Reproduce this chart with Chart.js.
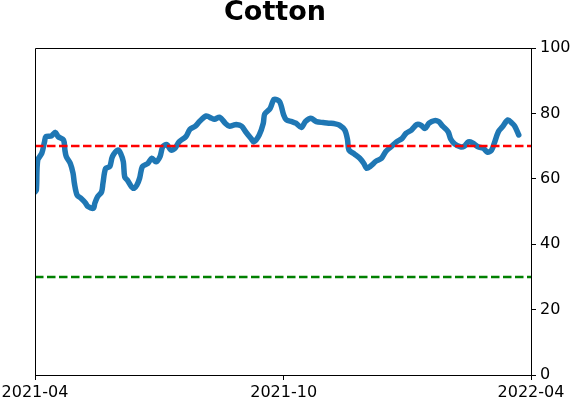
<!DOCTYPE html>
<html>
<head>
<meta charset="utf-8">
<script src="https://cdn.jsdelivr.net/npm/chart.js@4/dist/chart.umd.min.js"></script>
<style>
html,body{margin:0;padding:0;background:#fff;}
#wrap{width:571px;height:402px;position:relative;}
</style>
</head>
<body>
<div id="wrap"><canvas id="c" width="571" height="402"></canvas></div>
<script>
const titleText = "Cotton";
const xTickDays = [0, 183, 365];
const xTickLabels = ["2021-04", "2021-10", "2022-04"];
const yTicks = [0, 20, 40, 60, 80, 100];
const upperLevel = 70;
const lowerLevel = 30;
// days since 2021-04-01
const days = [0,1,2,5,7,8,12,15,17,21,22,23,26,28,29,31,34,37,39,43,44,46,49,50,52,55,57,61,63,65,66,68,71,73,75,77,79,83,86,89,92,94,97,100,103,106,111,114,118,121,126,130,132,136,140,143,146,148,152,155,159,161,165,168,169,173,176,180,183,185,189,192,196,199,203,207,212,217,221,224,228,230,231,235,239,242,244,247,251,255,258,262,266,270,273,277,281,284,287,290,294,297,300,304,306,309,313,316,319,322,326,330,333,336,338,341,344,348,351,353,356];
const values = [56,56.6,65.7,67.8,71.3,72.9,73.1,74.2,72.9,71.9,68.8,66.8,64.7,61.7,58.6,55,54,52.7,51.5,51,52.5,54.5,56,58.6,63.2,63.7,66.8,68.8,67.8,65.2,60.6,59.6,57.6,57.1,58.1,60.2,63.7,64.7,66.3,65.2,66.8,69.8,70.5,68.8,69.3,71.3,72.9,75.1,76.1,77.5,79.2,78.5,78.2,78.8,77,76.1,76.4,76.6,76.1,74.4,72.3,71.3,73.4,77,79.8,81.5,84.3,83.6,79.5,78,77.5,77,75.7,77.5,78.5,77.5,77.2,77,76.8,76.4,74.9,71.9,68.8,67.6,66.3,64.7,63.2,63.9,65.4,66.3,68.3,69.8,71.3,72.3,73.9,74.9,76.6,76.4,75.4,77,77.8,77.5,76.1,74.4,72.1,70.6,69.8,70,71.3,71,69.8,69.3,68.1,68.8,70.9,74.4,75.9,78,77,76.1,73.4];

const seriesPts = days.map((d, i) => ({x: d, y: values[i]}));
const xMin = xTickDays[0], xMax = xTickDays[xTickDays.length - 1];

const framePlugin = {
  id: 'frame',
  afterDraw(chart) {
    const {ctx, chartArea: a} = chart;
    ctx.save();
    ctx.strokeStyle = '#000';
    ctx.lineWidth = 1;
    ctx.beginPath();
    ctx.moveTo(a.left + 0.5, a.bottom);
    ctx.lineTo(a.left + 0.5, a.top + 0.5);
    ctx.lineTo(a.right, a.top + 0.5);
    ctx.stroke();
    ctx.fillStyle = '#000';
    ctx.font = 'bold 27px "DejaVu Sans"';
    ctx.textAlign = 'center';
    ctx.textBaseline = 'middle';
    ctx.fillText(titleText, 275, 13);
    ctx.restore();
  }
};

new Chart(document.getElementById('c'), {
  type: 'line',
  data: {
    datasets: [
      {data: [{x: xMin, y: upperLevel}, {x: xMax, y: upperLevel}], borderColor: '#ff0000', borderWidth: 2.5, borderDash: [8.5, 3.5], pointRadius: 0, order: 1},
      {data: [{x: xMin, y: lowerLevel}, {x: xMax, y: lowerLevel}], borderColor: '#008000', borderWidth: 2.5, borderDash: [8.5, 3.5], pointRadius: 0, order: 1},
      {data: seriesPts, borderColor: '#1f77b4', borderWidth: 5.5, pointRadius: 0, tension: 0.3, borderJoinStyle: 'round', borderCapStyle: 'round', order: 2}
    ]
  },
  options: {
    responsive: false,
    animation: false,
    events: [],
    layout: {padding: {top: 48, left: 35, right: 0, bottom: 0}},
    plugins: {legend: {display: false}, tooltip: {enabled: false}, title: {display: false}},
    scales: {
      x: {
        type: 'linear', min: xMin, max: xMax,
        afterBuildTicks(s) { s.ticks = xTickDays.map(v => ({value: v})); },
        afterFit(s) { s.height = 27; s.paddingLeft = 0; s.paddingRight = 0; },
        ticks: {
          autoSkip: false, maxRotation: 0, padding: 3, color: '#000',
          font: {family: '"DejaVu Sans"', size: 16},
          callback(v) { const i = xTickDays.indexOf(v); return i >= 0 ? xTickLabels[i] : ''; }
        },
        grid: {drawOnChartArea: false, drawTicks: true, tickLength: 5, color: '#000'},
        border: {display: true, color: '#000', width: 1}
      },
      y: {
        position: 'right', min: 0, max: 100,
        afterBuildTicks(s) { s.ticks = yTicks.map(v => ({value: v})); },
        afterFit(s) { s.width = 40; s.paddingTop = 0; s.paddingBottom = 0; },
        ticks: {padding: 4, color: '#000', font: {family: '"DejaVu Sans"', size: 16}},
        grid: {drawOnChartArea: false, drawTicks: true, tickLength: 5, color: '#000'},
        border: {display: true, color: '#000', width: 1}
      }
    }
  },
  plugins: [framePlugin]
});
</script>
</body>
</html>
